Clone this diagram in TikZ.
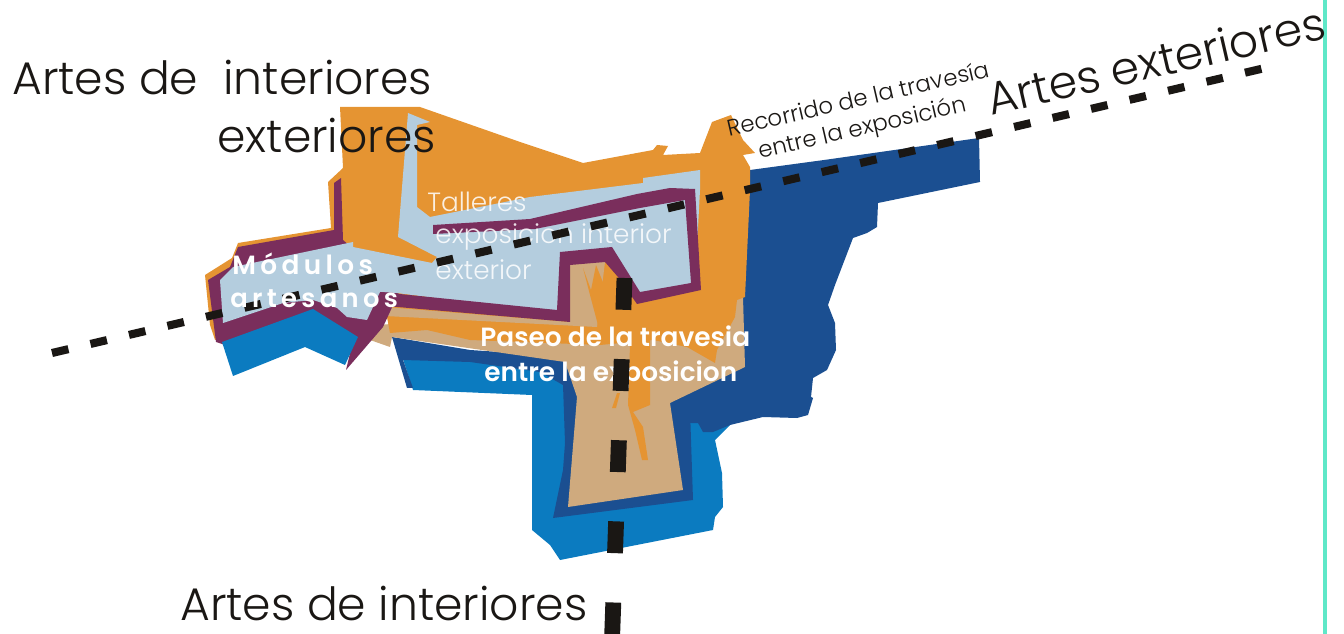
\documentclass[tikz,border=0pt]{standalone}
\usepackage{fontspec}
\setmainfont{Poppins Light}
\newfontfamily\boldfont{Poppins SemiBold}
\definecolor{naranja}{HTML}{E59432}
\definecolor{morado}{HTML}{7A2E5C}
\definecolor{gris}{HTML}{B4CDDE}
\definecolor{celeste}{HTML}{0B7BC0}
\definecolor{marino}{HTML}{1B4F91}
\definecolor{arena}{HTML}{CFAA7E}
\definecolor{tinta}{HTML}{1A1714}
\definecolor{borde}{HTML}{5FE8C8}
\tikzset{
  titulo/.style={text=tinta,font=\fontsize{26}{26}\selectfont,inner sep=0pt,anchor=base west},
  nota/.style={text=tinta,font=\fontsize{13}{13}\selectfont,inner sep=0pt,anchor=base west,rotate=13},
  claro/.style={text=white,opacity=0.85,font=\fontsize{15}{15}\selectfont,inner sep=0pt,anchor=base west},
  fuerte/.style={text=white,font=\boldfont\fontsize{15}{15}\selectfont,inner sep=0pt,anchor=base west},
  trazo/.style={draw=tinta,line width=4.6pt},
}
\begin{document}
\begin{tikzpicture}[x=0.02cm,y=-0.02cm]
  \useasboundingbox (0,0) rectangle (1344,634);

  % borde derecho
  \draw[borde,line width=2pt] (1325,0) -- (1325,634);

  % zonas azules
  \fill[celeste] (400,350) -- (570,360) -- (600,420) -- (690,410) -- (730,425) -- (715,440)
    -- (722,473) -- (723,507) -- (715,517) -- (713,530) -- (560,560) -- (550,545) -- (532,530) -- (532,395) -- (413,390) -- cycle;
  \fill[marino] (392,337) -- (470,350) -- (650,362) -- (690,410) -- (693,500) -- (553,518) -- (563,470)
    -- (565,443) -- (563,385) -- (540,372) -- (470,362) -- (403,360) -- (413,388) -- (407,388) -- cycle;
  \fill[marino] (750,170) -- (824,160) -- (979,138) -- (980,182) -- (878,203) -- (877,227) -- (867,233)
    -- (853,238) -- (835,285) -- (828,305) -- (835,323) -- (836,350) -- (827,370) -- (813,378) -- (811,397) -- (813,398)
    -- (808,415) -- (797,418) -- (763,417) -- (730,425) -- (713,432) -- (703,432) -- (698,423) -- (683,423) -- (670,405) -- (700,340) -- cycle;

  % arena
  \fill[arena] (378,325) -- (743,297) -- (745,367) -- (670,403) -- (683,490) -- (568,507) -- (577,397)
    -- (565,362) -- (392,337) -- (390,347) -- (370,340) -- cycle;

  % naranja
  \fill[naranja] (340,107) -- (420,107) -- (523,143) -- (583,163) -- (653,150) -- (657,145) -- (668,146)
    -- (663,155) -- (700,153) -- (712,122) -- (731,115) -- (743,140) -- (755,153) -- (743,155) -- (750,167)
    -- (750,190) -- (745,297) -- (737,300) -- (735,317) -- (717,350) -- (715,363) -- (687,347) -- (653,340) -- (600,345) -- (470,340) -- (427,330)
    -- (390,333) -- (387,317) -- (300,300) -- (215,340) -- (210,325) -- (205,275) -- (232,258) -- (238,243)
    -- (331,228) -- (328,182) -- (343,168) -- cycle;
  \fill[arena] (385,307) -- (570,322) -- (568,263) -- (605,262) -- (597,327) -- (385,316) -- cycle;
  \fill[naranja] (583,268) -- (591,290) -- (596,265) -- (606,290) -- (618,280) -- (650,340) -- (650,405) -- (633,412)
    -- (643,427) -- (648,460) -- (642,460) -- (635,430) -- (628,405) -- (630,345) -- (598,325) -- (590,295) -- cycle;
  \fill[naranja] (617,393) -- (612,408) -- (616,408) -- (620,393) -- cycle;

  % modulos
  \fill[morado] (334,183) -- (341,178) -- (343,240) -- (400,290) -- (383,327) -- (346,370) -- (352,345)
    -- (313,320) -- (225,345) -- (216,342) -- (208,280) -- (230,267) -- (238,247) -- (334,230) -- cycle;
  \fill[celeste] (222,342) -- (313,309) -- (358,337) -- (345,365) -- (305,347) -- (233,376) -- cycle;
  \fill[gris] (408,113) -- (430,122) -- (417,125) -- (417,207) -- (430,217) -- (530,197) -- (643,183) -- (643,178)
    -- (700,170) -- (700,190) -- (695,285) -- (640,298) -- (610,255) -- (565,258) -- (565,315) -- (397,293)
    -- (380,292) -- (367,320) -- (347,317) -- (337,308) -- (313,300) -- (283,303) -- (223,323) -- (220,280) -- (233,267)
    -- (353,242) -- (353,247) -- (432,263) -- (437,257) -- (398,237) -- cycle;
  \fill[morado] (433,225) -- (530,219) -- (637,194) -- (670,188) -- (695,189) -- (701,290) -- (637,304) -- (618,277)
    -- (605,262) -- (570,265) -- (570,322) -- (386,306) -- (380,292) -- (557,310) -- (560,252) -- (612,247) -- (640,292)
    -- (691,283) -- (685,200) -- (640,208) -- (535,229) -- (433,234) -- cycle;

  % textos
  \node[titulo] (interiores) at (12,95) {Artes de\ \ interiores};
  \node[titulo] (exteriores) at (217,153) {exteriores};
  \node[titulo] (abajo) at (180,620) {Artes de interiores};
  \node[titulo,rotate=13] (artes) at (991,116) {Artes exteriores};
  \node[nota] (recorrido) at (729,137) {Recorrido de la travesía};
  \node[nota] (entre) at (760,159) {entre la exposición};
  \node[claro] (talleres) at (427,212) {Talleres};
  \node[claro] (exposicion) at (435,244) {exposicion interior};
  \node[claro] (exterior) at (435,280) {exterior};
  \node[fuerte] (paseo) at (480,347) {Paseo de la travesia};

  % recorrido
  \draw[trazo,dash pattern=on 9.6pt off 12.9pt] (52,353) -- (1265,68);

  \node[fuerte] (expo) at (484,381) {entre la exposicion};
  \node[fuerte] (modulos) at (232,275) {M\,ó\,d\,u\,l\,o\,s};
  \node[fuerte,font=\boldfont\fontsize{14.7}{15}\selectfont] (artesanos) at (230,308) {a\,r\,t\,e\,s\,a\,n\,o\,s};

  \draw[draw=tinta,line width=9pt,dash pattern=on 18.1pt off 28.1pt] (624.5,278) -- (612,640);
\end{tikzpicture}
\end{document}
